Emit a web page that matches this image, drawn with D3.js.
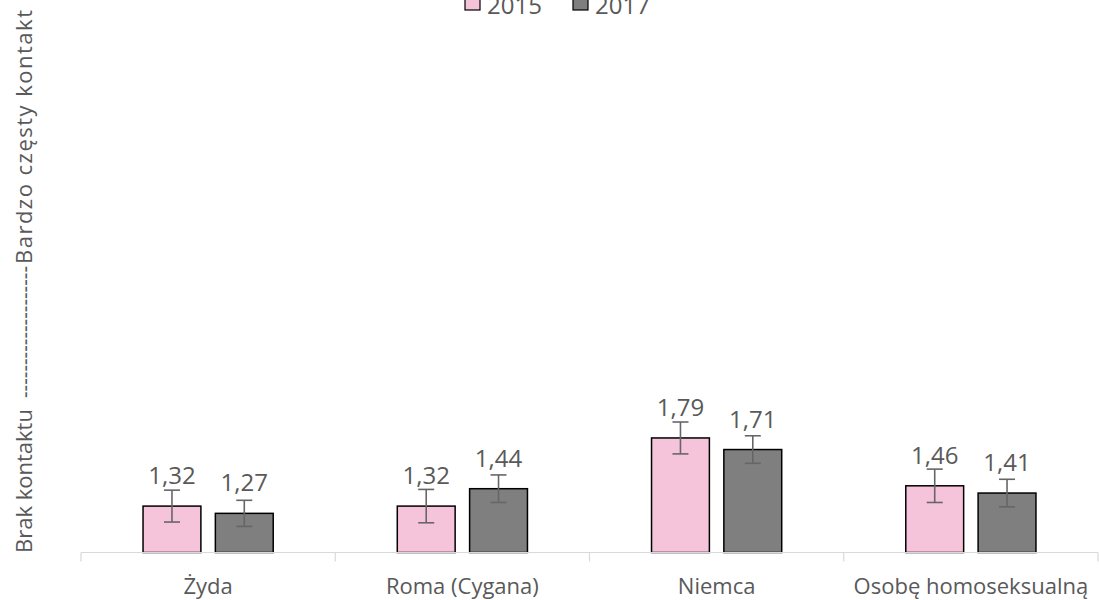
<!DOCTYPE html>
<html>
<head>
<meta charset="utf-8">
<script src="https://cdn.jsdelivr.net/npm/d3@7"></script>
<style>
  body { margin: 0; background: #fff; }
  svg { display: block; font-family: "Open Sans", Lato, sans-serif; }
</style>
</head>
<body>
<script>
// categories and series
const categories = ['Żyda', 'Roma (Cygana)', 'Niemca', 'Osobę homoseksualną'];
const seriesNames = ['2015', '2017'];
const values2015 = [1.32, 1.32, 1.79, 1.46];
const values2017 = [1.27, 1.44, 1.71, 1.41];
// error bar half-widths
const err2015 = [0.11, 0.115, 0.11, 0.115];
const err2017 = [0.09, 0.095, 0.095, 0.095];
// y axis title pieces: low end, dashes, high end
const yTitleParts = ['Brak kontaktu', '--------------------', 'Bardzo częsty kontakt'];

const width = 1099;
const height = 600;
const colors = { '2015': '#f6c4da', '2017': '#7f7f7f' };
const textColor = '#595959';

const data = categories.map((c, i) => ({
  cat: c,
  vals: [
    { s: '2015', v: values2015[i], e: err2015[i] },
    { s: '2017', v: values2017[i], e: err2017[i] }
  ]
}));

const svg = d3.select('body').append('svg')
  .attr('width', width)
  .attr('height', height);

// scales
const x0 = d3.scaleBand()
  .domain(categories)
  .range([81, 1098])
  .padding(0);

const bw = x0.bandwidth();
const x1 = d3.scaleBand()
  .domain(seriesNames)
  .range([bw * 0.244, bw * 0.756])
  .paddingInner(0.2);

const y = d3.scaleLinear()
  .domain([1, 5])
  .range([552.5, -27.5]);

const fmt = d3.formatLocale({ decimal: ',', thousands: ' ', grouping: [3], currency: ['', ''] }).format('.2f');

// bars
const groups = svg.selectAll('g.grp')
  .data(data)
  .enter().append('g')
  .attr('class', 'grp')
  .attr('transform', d => `translate(${x0(d.cat)},0)`);

groups.selectAll('rect')
  .data(d => d.vals)
  .enter().append('rect')
  .attr('x', d => x1(d.s))
  .attr('y', d => y(d.v))
  .attr('width', x1.bandwidth())
  .attr('height', d => y(1) - y(d.v))
  .attr('fill', d => colors[d.s])
  .attr('stroke', '#000')
  .attr('stroke-width', 1.5);

// error bars
const eb = groups.selectAll('g.err')
  .data(d => d.vals)
  .enter().append('g')
  .attr('class', 'err')
  .attr('stroke', '#666')
  .attr('stroke-width', 1.6);

const cx = d => x1(d.s) + x1.bandwidth() / 2;
eb.append('line')
  .attr('x1', cx).attr('x2', cx)
  .attr('y1', d => y(d.v + d.e)).attr('y2', d => y(d.v - d.e));
eb.append('line')
  .attr('x1', d => cx(d) - 8).attr('x2', d => cx(d) + 8)
  .attr('y1', d => y(d.v + d.e)).attr('y2', d => y(d.v + d.e));
eb.append('line')
  .attr('x1', d => cx(d) - 8).attr('x2', d => cx(d) + 8)
  .attr('y1', d => y(d.v - d.e)).attr('y2', d => y(d.v - d.e));

// data labels
groups.selectAll('text.lbl')
  .data(d => d.vals)
  .enter().append('text')
  .attr('class', 'lbl')
  .attr('x', cx)
  .attr('y', d => y(d.v) - 22)
  .attr('text-anchor', 'middle')
  .attr('fill', textColor)
  .style('font-size', '24px')
  .text(d => fmt(d.v));

// x axis
const axisG = svg.append('g').attr('stroke', '#d9d9d9').attr('stroke-width', 1.2);
axisG.append('line')
  .attr('x1', x0.range()[0]).attr('x2', x0.range()[1])
  .attr('y1', y(1)).attr('y2', y(1));
const tickPos = categories.map(c => x0(c)).concat([x0.range()[1]]);
axisG.selectAll('line.tick')
  .data(tickPos)
  .enter().append('line')
  .attr('class', 'tick')
  .attr('x1', d => d).attr('x2', d => d)
  .attr('y1', y(1)).attr('y2', y(1) + 9);

svg.selectAll('text.cat')
  .data(categories)
  .enter().append('text')
  .attr('class', 'cat')
  .attr('x', d => x0(d) + bw / 2)
  .attr('y', 594)
  .attr('text-anchor', 'middle')
  .attr('fill', textColor)
  .style('font-size', '22px')
  .text(d => d);

// y axis title, in three pieces along the axis
const titleStart = [553, 398, 264];
const titleLen = [null, 132, 254];
const titleAdjust = [null, 'spacingAndGlyphs', 'spacing'];
yTitleParts.forEach((t, i) => {
  const el = svg.append('text')
    .attr('transform', `translate(32,${titleStart[i]}) rotate(-90)`)
    .attr('fill', textColor)
    .style('font-size', '22px')
    .text(t);
  if (titleLen[i]) {
    el.attr('textLength', titleLen[i]).attr('lengthAdjust', titleAdjust[i]);
  }
});

// legend (cut at the top as in the original)
const legend = svg.append('g');
const legX = [465, 573];
seriesNames.forEach((s, i) => {
  legend.append('rect')
    .attr('x', legX[i]).attr('y', -5)
    .attr('width', 15).attr('height', 15)
    .attr('fill', colors[s])
    .attr('stroke', '#000')
    .attr('stroke-width', 1.2);
  legend.append('text')
    .attr('x', legX[i] + 22).attr('y', 14)
    .attr('fill', textColor)
    .style('font-size', '24px')
    .text(s);
});
</script>
</body>
</html>
